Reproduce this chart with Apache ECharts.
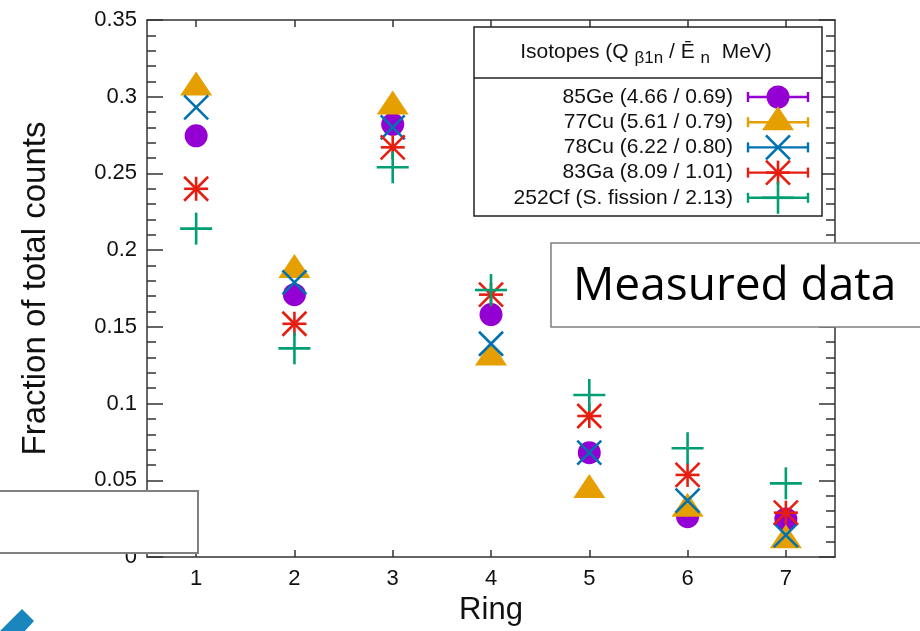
<!DOCTYPE html>
<html>
<head>
<meta charset="utf-8">
<script src="https://cdn.jsdelivr.net/npm/echarts@6/dist/echarts.min.js"></script>
<style>
  html, body { margin: 0; padding: 0; background: #fff; }
  #chart { width: 920px; height: 631px; }
</style>
</head>
<body>
<div id="chart"></div>
<script>
// Fraction of neutron counts per detector ring, for each isotope
const rings = ['1', '2', '3', '4', '5', '6', '7'];
const ge85  = [0.2745, 0.171, 0.282, 0.158, 0.068, 0.0263, 0.0248];
const cu77  = [0.306, 0.187, 0.2936, 0.130, 0.0437, 0.0315, 0.0109];
const cu78  = [0.293, 0.179, 0.280, 0.139, 0.068, 0.0367, 0.0143];
const ga83  = [0.240, 0.152, 0.267, 0.171, 0.0919, 0.0535, 0.0289];
const cf252 = [0.214, 0.136, 0.254, 0.174, 0.1056, 0.0709, 0.048];

const isotopeNames = [
  '85Ge (4.66 / 0.69)',
  '77Cu (5.61 / 0.79)',
  '78Cu (6.22 / 0.80)',
  '83Ga (8.09 / 1.01)',
  '252Cf (S. fission / 2.13)'
];
const isotopeData = [ge85, cu77, cu78, ga83, cf252];
const markerKinds = ['circle', 'triangle', 'cross', 'star', 'plus'];
const colors = ['#9400d3', '#e69f00', '#0072b2', '#e51e10', '#009e73'];

const FONT = '"Liberation Sans", Arial, sans-serif';

// Gnuplot-style point shapes centred on (x, y)
function marker(kind, x, y, color) {
  const lw = 2.6;
  const ln = (x1, y1, x2, y2) => ({
    type: 'line',
    shape: { x1, y1, x2, y2 },
    style: { stroke: color, lineWidth: lw }
  });
  if (kind === 'circle') {
    return { type: 'circle', shape: { cx: x, cy: y, r: 11.5 }, style: { fill: color } };
  }
  if (kind === 'triangle') {
    return {
      type: 'polygon',
      shape: { points: [[x - 16, y + 8], [x + 16, y + 8], [x, y - 16]] },
      style: { fill: color }
    };
  }
  if (kind === 'cross') {
    return { type: 'group', children: [
      ln(x - 12, y - 12, x + 12, y + 12),
      ln(x - 12, y + 12, x + 12, y - 12)
    ] };
  }
  if (kind === 'star') {
    return { type: 'group', children: [
      ln(x - 12, y - 12, x + 12, y + 12),
      ln(x - 12, y + 12, x + 12, y - 12),
      ln(x - 12, y, x + 12, y),
      ln(x, y - 12, x, y + 12)
    ] };
  }
  // plus
  return { type: 'group', children: [
    ln(x - 16, y, x + 16, y),
    ln(x, y - 16, x, y + 16)
  ] };
}

const series = isotopeData.map((vals, k) => ({
  type: 'custom',
  name: isotopeNames[k],
  xAxisIndex: 0,
  yAxisIndex: 0,
  z: 2 + k,
  data: vals.map((v, i) => [i, v]),
  renderItem: function (params, api) {
    const p = api.coord([api.value(0), api.value(1)]);
    return marker(markerKinds[k], p[0], p[1], colors[k]);
  }
}));

// Legend box with error-bar style keys
const legendEls = [];
legendEls.push({
  type: 'rect', z: 100,
  shape: { x: 474, y: 27, width: 348, height: 189 },
  style: { fill: '#fff', stroke: '#222', lineWidth: 1.5 }
});
legendEls.push({
  type: 'line', z: 101,
  shape: { x1: 474, y1: 78, x2: 822, y2: 78 },
  style: { stroke: '#222', lineWidth: 1.5 }
});
legendEls.push({
  type: 'text', z: 101,
  style: {
    x: 646, y: 52,
    text: '{a|Isotopes (Q }{s|β1n}{a| / Ē }{s|n}{a|  MeV)}',
    align: 'center', verticalAlign: 'middle',
    rich: {
      a: { fontFamily: FONT, fontSize: 21, fill: '#111', lineHeight: 30, verticalAlign: 'middle' },
      s: { fontFamily: FONT, fontSize: 17, fill: '#111', lineHeight: 30, verticalAlign: 'bottom', padding: [12, 0, 0, 0] }
    }
  }
});
isotopeNames.forEach((name, k) => {
  const y = 97 + 25.2 * k;
  legendEls.push({
    type: 'text', z: 101,
    style: { x: 733, y: y, text: name, align: 'right', verticalAlign: 'middle',
             fontFamily: FONT, fontSize: 21, fill: '#111' }
  });
  const c = colors[k];
  const bar = [
    { x1: 748, y1: y, x2: 808, y2: y },
    { x1: 748, y1: y - 5, x2: 748, y2: y + 5 },
    { x1: 808, y1: y - 5, x2: 808, y2: y + 5 }
  ];
  bar.forEach(s => legendEls.push({
    type: 'line', z: 101, shape: s, style: { stroke: c, lineWidth: 2.4 }
  }));
  const m = marker(markerKinds[k], 778, y, c);
  m.z = 102 + k;
  if (m.children) m.children.forEach(ch => { ch.z = 102 + k; });
  legendEls.push(m);
});

// Annotation boxes laid over the plot
const overlayEls = [
  {
    type: 'rect', z: 120,
    shape: { x: 551, y: 243, width: 372, height: 84 },
    style: { fill: '#fff', stroke: '#7f7f7f', lineWidth: 1.5 }
  },
  {
    type: 'text', z: 121,
    style: { x: 573, y: 287, text: 'Measured data', align: 'left', verticalAlign: 'middle',
             fontFamily: '"Open Sans", sans-serif', fontSize: 46, fill: '#000' }
  },
  {
    type: 'rect', z: 120,
    shape: { x: -2, y: 491, width: 200, height: 62 },
    style: { fill: '#fff', stroke: '#808080', lineWidth: 2 }
  },
  {
    type: 'polygon', z: 120,
    shape: { points: [[22, 609], [34, 621], [24, 632], [-1, 632]] },
    style: { fill: '#1b86be' }
  }
];

const axisLineStyle = { color: '#333', width: 1.5 };
const labelStyle = { fontFamily: FONT, fontSize: 22, color: '#111' };

const option = {
  backgroundColor: '#fff',
  animation: false,
  grid: { left: 147, right: 85, top: 20, bottom: 74, containLabel: false, outerBoundsMode: 'none' },
  xAxis: [
    {
      type: 'category', data: rings, position: 'bottom', boundaryGap: true,
      axisLine: { show: true, onZero: false, lineStyle: axisLineStyle },
      axisTick: { show: true, inside: true, length: 7, alignWithLabel: true, lineStyle: axisLineStyle },
      axisLabel: Object.assign({ margin: 11 }, labelStyle),
      splitLine: { show: false },
      name: 'Ring', nameLocation: 'middle', nameGap: 37,
      nameTextStyle: { fontFamily: FONT, fontSize: 31, color: '#111' }
    },
    {
      type: 'category', data: rings, position: 'top', boundaryGap: true,
      axisLine: { show: true, onZero: false, lineStyle: axisLineStyle },
      axisTick: { show: true, inside: true, length: 7, alignWithLabel: true, lineStyle: axisLineStyle },
      axisLabel: { show: false },
      splitLine: { show: false }
    }
  ],
  yAxis: [
    {
      type: 'value', min: 0, max: 0.35, interval: 0.05, position: 'left',
      axisLine: { show: true, onZero: false, lineStyle: axisLineStyle },
      axisTick: { show: true, inside: true, length: 16, lineStyle: axisLineStyle },
      minorTick: { show: true, splitNumber: 5, length: 9, lineStyle: axisLineStyle },
      axisLabel: Object.assign({
        margin: 10,
        formatter: v => String(parseFloat(v.toFixed(2)))
      }, labelStyle),
      splitLine: { show: false },
      name: 'Fraction of total counts', nameLocation: 'middle', nameGap: 95, nameRotate: 90,
      nameTextStyle: { fontFamily: FONT, fontSize: 33, color: '#111' }
    },
    {
      type: 'value', min: 0, max: 0.35, interval: 0.05, position: 'right',
      axisLine: { show: true, onZero: false, lineStyle: axisLineStyle },
      axisTick: { show: true, inside: true, length: 16, lineStyle: axisLineStyle },
      minorTick: { show: true, splitNumber: 5, length: 9, lineStyle: axisLineStyle },
      axisLabel: { show: false },
      splitLine: { show: false }
    }
  ],
  graphic: { elements: legendEls.concat(overlayEls) },
  series: series
};

const chart = echarts.init(document.getElementById('chart'), null, { renderer: 'canvas' });
chart.setOption(option);
</script>
</body>
</html>
